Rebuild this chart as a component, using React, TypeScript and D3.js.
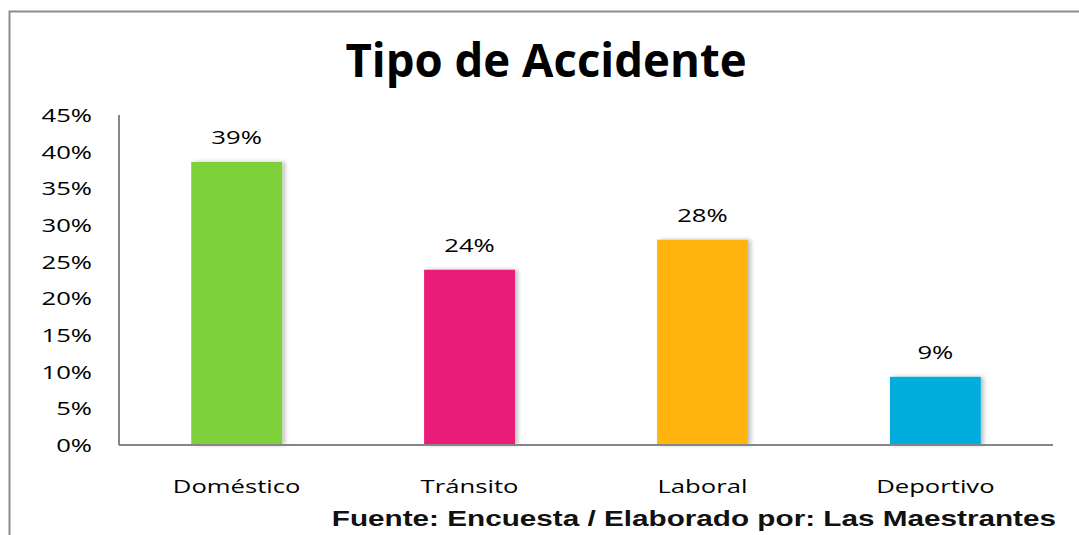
import React from "react";
import * as d3 from "d3";

const categories = ["Doméstico", "Tránsito", "Laboral", "Deportivo"];
const values = [38.6, 23.9, 28.0, 9.3];
const valueLabels = ["39%", "24%", "28%", "9%"];
const colors = ["#7FD13B", "#EA1A7A", "#FFB50F", "#00ADDC"];
const yTicks = [0, 5, 10, 15, 20, 25, 30, 35, 40, 45];

const W = 1079;
const H = 535;
const plot = { left: 119, right: 1053, top: 115, bottom: 445 };
const font = "'Open Sans', 'Noto Sans', sans-serif";
const SX = 1.35;

function T(props: {
  x: number;
  y: number;
  anchor: "start" | "middle" | "end";
  sx?: number;
  size: number;
  family?: string;
  weight?: string;
  dy?: string;
  fill?: string;
  children: React.ReactNode;
}) {
  return (
    <text
      transform={`translate(${props.x},${props.y}) scale(${props.sx ?? SX},1)`}
      textAnchor={props.anchor}
      fontFamily={props.family ?? font}
      fontWeight={props.weight ?? "normal"}
      fontSize={props.size}
      dy={props.dy}
      fill={props.fill ?? "#000"}
    >
      {props.children}
    </text>
  );
}

export default function App() {
  const x = d3
    .scaleBand<string>()
    .domain(categories)
    .range([plot.left, plot.right])
    .paddingInner(0.61)
    .paddingOuter(0.31);
  const y = d3.scaleLinear().domain([0, 45]).range([plot.bottom, plot.top]);

  return (
    <svg
      width={W}
      height={H}
      style={{ position: "absolute", left: 0, top: 0, background: "#fff" }}
    >
      <defs>
        <filter id="sh" x="-20%" y="-5%" width="140%" height="110%">
          <feGaussianBlur in="SourceAlpha" stdDeviation="2" />
          <feOffset dx="3" dy="0" result="b" />
          <feComponentTransfer>
            <feFuncA type="linear" slope="0.25" />
          </feComponentTransfer>
          <feMerge>
            <feMergeNode />
            <feMergeNode in="SourceGraphic" />
          </feMerge>
        </filter>
      </defs>
      <rect x={9.5} y={11.5} width={W + 20} height={H + 20} fill="none" stroke="#8c8c8c" strokeWidth={2} />
      <T x={546} y={77} anchor="middle" sx={0.99} size={46} weight="bold">
        Tipo de Accidente
      </T>
      {yTicks.map((t) => (
        <T key={t} x={92} y={y(t)} dy="0.36em" anchor="end" size={19}>
          {t}%
        </T>
      ))}
      {categories.map((c, i) => (
        <g key={c}>
          <rect
            x={x(c)}
            y={y(values[i])}
            width={x.bandwidth()}
            height={plot.bottom - y(values[i])}
            fill={colors[i]}
            filter="url(#sh)"
          />
          <T
            x={(x(c) as number) + x.bandwidth() / 2}
            y={y(values[i]) - 18}
            anchor="middle"
            size={19}
          >
            {valueLabels[i]}
          </T>
          <T x={(x(c) as number) + x.bandwidth() / 2} y={493} anchor="middle" size={19}>
            {c}
          </T>
        </g>
      ))}
      <line x1={plot.left} x2={plot.left} y1={plot.top} y2={plot.bottom} stroke="#868686" strokeWidth={2} />
      <line x1={plot.left} x2={plot.right} y1={plot.bottom} y2={plot.bottom} stroke="#868686" strokeWidth={2} />
      <T
        x={1056}
        y={526}
        anchor="end"
        sx={1.35}
        size={22}
        family="'Liberation Sans', Arial, sans-serif"
        weight="bold"
        fill="#111"
      >
        Fuente: Encuesta / Elaborado por: Las Maestrantes
      </T>
    </svg>
  );
}
